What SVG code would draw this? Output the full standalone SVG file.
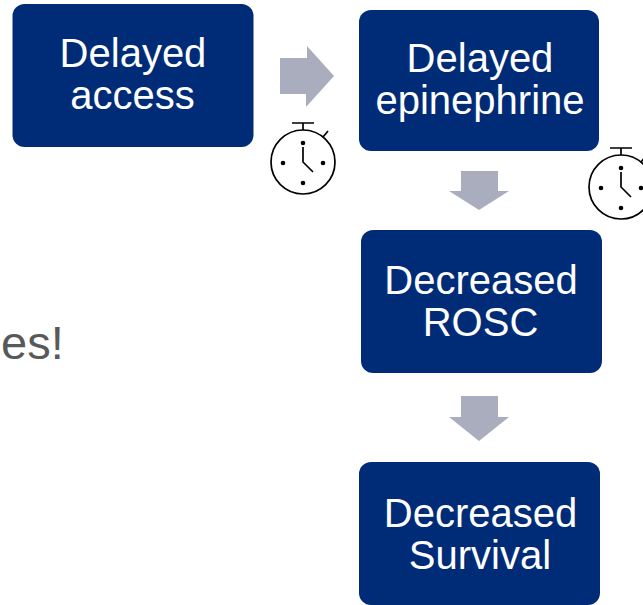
<svg xmlns="http://www.w3.org/2000/svg" width="643" height="605" viewBox="0 0 643 605">
<style>
.box{fill:#002c77}
.t{font-family:"Liberation Sans",Arial,sans-serif;font-size:40px;fill:#fff;text-anchor:middle}
.g{fill:#a9adbd}
.c{fill:none;stroke:#000;stroke-width:1.7}
.d{fill:#000}
</style>
<defs>
<g id="watch">
<circle class="c" cx="0" cy="0" r="32"/>
<path class="c" d="M-11 -39H11M0 -39V-32M20 -25L25 -31M0 -15V0L10 10"/>
<circle class="d" cx="0" cy="-19" r="2.3"/><circle class="d" cx="0" cy="21" r="2.3"/><circle class="d" cx="-20" cy="1" r="2.3"/><circle class="d" cx="20" cy="1" r="2.3"/>
</g>
</defs>
<rect width="643" height="605" fill="#fff"/>
<text x="1" y="359" font-family="'Liberation Sans',Arial,sans-serif" font-size="47" fill="#595959">es!</text>
<g id="connectors">
<polygon class="g" points="280,58 307,58 307,46 334,76 306,107 306,94 280,94"/>
<polygon class="g" points="461,171 498,171 498,191 509,191 479,210 449,191 461,191"/>
<polygon class="g" points="461,396 498,396 498,417 509,417 479,441 449,417 461,417"/>
</g>
<g id="node-delayed-access">
<rect class="box" x="12.500" y="4" width="241" height="143" rx="12"/>
<text class="t" x="133" y="67">Delayed</text><text class="t" x="132.500" y="109">access</text>
</g>
<g id="node-delayed-epinephrine">
<rect class="box" x="359" y="10" width="240" height="141" rx="12"/>
<text class="t" x="480" y="72">Delayed</text><text class="t" x="480" y="114">epinephrine</text>
</g>
<g id="node-decreased-rosc">
<rect class="box" x="361" y="230" width="241" height="143" rx="12"/>
<text class="t" x="481" y="294">Decreased</text><text class="t" x="480.500" y="336">ROSC</text>
</g>
<g id="node-decreased-survival">
<rect class="box" x="359" y="462" width="241" height="143" rx="12"/>
<text class="t" x="480.500" y="527">Decreased</text><text class="t" x="480" y="569">Survival</text>
</g>
<g id="watch-1"><use href="#watch" x="303" y="162"/></g>
<g id="watch-2"><use href="#watch" x="621" y="187"/></g>
</svg>
